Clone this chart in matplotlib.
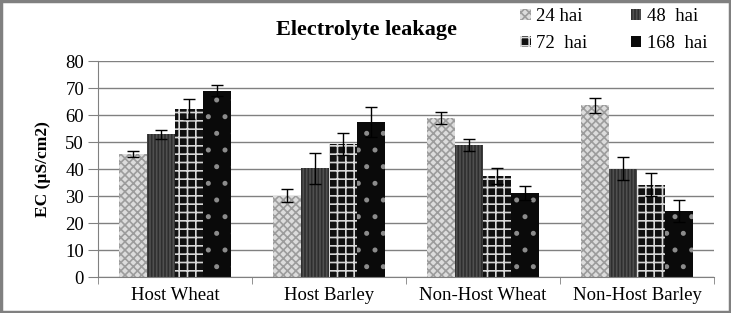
import numpy as np
import matplotlib.pyplot as plt
from matplotlib.patches import Rectangle

plt.rcParams['font.family'] = ['Liberation Serif', 'DejaVu Serif']
plt.rcParams['hatch.linewidth'] = 1.2

categories = ["Host Wheat", "Host Barley", "Non-Host Wheat", "Non-Host Barley"]
series = ["24 hai", "48  hai", "72  hai", "168  hai"]

hai24 = [45.5, 30.1, 58.9, 63.6]
hai48 = [52.8, 40.2, 48.8, 40.1]
hai72 = [62.2, 49.3, 37.5, 34.2]
hai168 = [69.0, 57.3, 31.2, 24.4]

err24 = [1.2, 2.4, 2.2, 2.8]
err48 = [1.6, 5.7, 2.2, 4.2]
err72 = [3.6, 4.2, 3.0, 4.3]
err168 = [2.0, 5.5, 2.6, 4.0]

values = [hai24, hai48, hai72, hai168]
errors = [err24, err48, err72, err168]

# face, hatch colour, hatch
styles = [
    ("#dcdcdc", "#9c9c9c", "xxxx"),
    ("#505050", "#2e2e2e", "|||||"),
    ("#111111", "#d8d8d8", "++"),
    ("#0a0a0a", "#8c8c8c", "."),
]

fig = plt.figure(figsize=(7.31, 3.13), dpi=100)
ax = fig.add_axes([0.134, 0.115, 0.843, 0.69])

x = np.arange(len(categories))
w = 0.182
handles = []
for i, (vals, errs) in enumerate(zip(values, errors)):
    face, hc, hatch = styles[i]
    pos = x + (i - 1.5) * w
    b = ax.bar(pos, vals, w, color=face, edgecolor=hc, hatch=hatch, linewidth=0,
               label=series[i], zorder=2)
    ax.errorbar(pos, vals, yerr=errs, fmt='none', ecolor='black', elinewidth=1,
                capsize=4, capthick=1, zorder=3)
    handles.append(b)

ax.set_ylim(0, 80)
ax.set_yticks(np.arange(0, 81, 10))
ax.set_xlim(-0.5, 3.5)
ax.set_xticks(x)
ax.set_xticklabels(categories, fontsize=13.5)
ax.set_xticks(np.arange(-0.5, 4, 1), minor=True)
ax.tick_params(axis='x', which='major', length=0, pad=7)
ax.tick_params(axis='x', which='minor', length=5, color='#808080')
ax.tick_params(axis='y', labelsize=13.5, length=7, color='#808080', pad=3)
ax.yaxis.grid(True, color='#808080', linewidth=1)
ax.set_axisbelow(True)
for s in ['top', 'right']:
    ax.spines[s].set_visible(False)
ax.spines['left'].set_color('#808080')
ax.spines['bottom'].set_color('#808080')
ax.set_ylabel("EC (µS/cm2)", fontsize=12.5, fontweight='bold', labelpad=10)

fig.text(0.5007, 0.905, "Electrolyte leakage", ha='center', va='center',
         fontsize=16, fontweight='bold')

order = [0, 2, 1, 3]
fig.legend([handles[k] for k in order], [series[k] for k in order], ncol=2,
           loc='upper left', bbox_to_anchor=(0.712, 0.973), frameon=False,
           borderpad=0, borderaxespad=0,
           fontsize=13.5, handlelength=0.55, handleheight=0.55, handletextpad=0.3,
           columnspacing=2.3, labelspacing=0.5)

fig.patches.append(Rectangle((0.002, 0.004), 0.996, 0.992, transform=fig.transFigure,
                             fill=False, edgecolor='#808080', linewidth=2.5))

fig.savefig("out.png", dpi=100)
